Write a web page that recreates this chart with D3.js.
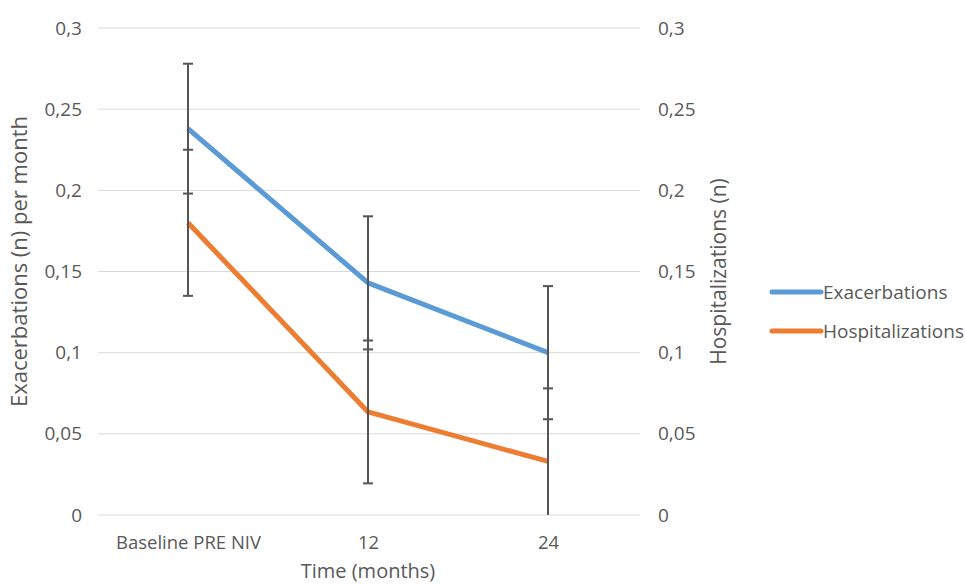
<!DOCTYPE html>
<html>
<head>
<meta charset="utf-8">
<script src="https://cdn.jsdelivr.net/npm/d3@7"></script>
<style>
  body { margin: 0; background: #fff; }
  svg text { font-family: "Open Sans", "Noto Sans", sans-serif; fill: #595959; }
</style>
</head>
<body>
<div id="chart"></div>
<script>
// Chart data
const categories = ['Baseline PRE NIV', '12', '24'];
const exacerbations = [0.238, 0.143, 0.100];
const exacerbationsErr = [0.040, 0.041, 0.041];
const hospitalizations = [0.180, 0.0635, 0.033];
const hospitalizationsErr = [0.045, 0.044, 0.045];
const yTicks = [0, 0.05, 0.1, 0.15, 0.2, 0.25, 0.3];

const series = [
  { name: 'Exacerbations', values: exacerbations, err: exacerbationsErr, color: '#5B9BD5' },
  { name: 'Hospitalizations', values: hospitalizations, err: hospitalizationsErr, color: '#ED7D31' },
];

const W = 965, H = 588;
const plot = { left: 98, right: 640, top: 28, bottom: 515 };
const FONT = '"Open Sans", "Noto Sans", sans-serif';

const svg = d3.select('#chart').append('svg')
  .attr('width', W).attr('height', H);

const x = d3.scalePoint().domain(categories)
  .range([plot.left, plot.right - 2]).padding(0.5);
const y = d3.scaleLinear().domain([0, 0.3]).range([plot.bottom, plot.top]);

const fmt = d => d3.format('')(d).replace('.', ',');

// Gridlines
svg.append('g')
  .selectAll('line')
  .data(yTicks)
  .join('line')
  .attr('x1', plot.left).attr('x2', plot.right)
  .attr('y1', d => y(d)).attr('y2', d => y(d))
  .attr('stroke', '#d9d9d9').attr('stroke-width', 1);

function styleAxis(g, size) {
  g.select('.domain').remove();
  g.selectAll('text').attr('font-size', size)
    .style('fill', '#595959').style('font-family', FONT);
}

// Left axis labels
svg.append('g')
  .attr('transform', `translate(${plot.left},0)`)
  .call(d3.axisLeft(y).tickValues(yTicks).tickFormat(fmt).tickSize(0).tickPadding(16))
  .call(g => styleAxis(g, 19));

// Right axis labels
svg.append('g')
  .attr('transform', `translate(${plot.right},0)`)
  .call(d3.axisRight(y).tickValues(yTicks).tickFormat(fmt).tickSize(0).tickPadding(18))
  .call(g => styleAxis(g, 19));

// Category axis
svg.append('g')
  .attr('transform', `translate(0,${plot.bottom})`)
  .call(d3.axisBottom(x).tickSize(0).tickPadding(21))
  .call(g => styleAxis(g, 18.5));

// Axis titles
svg.append('text')
  .attr('transform', `translate(27,${(plot.top + plot.bottom) / 2 - 10}) rotate(-90)`)
  .attr('text-anchor', 'middle')
  .attr('font-size', 22)
  .text('Exacerbations (n) per month');

svg.append('text')
  .attr('transform', `translate(726,${(plot.top + plot.bottom) / 2}) rotate(-90)`)
  .attr('text-anchor', 'middle')
  .attr('font-size', 21)
  .text('Hospitalizations (n)');

svg.append('text')
  .attr('x', x('12')).attr('y', 578)
  .attr('text-anchor', 'middle')
  .attr('font-size', 20)
  .text('Time (months)');

// Lines
const line = d3.line()
  .x((d, i) => x(categories[i]))
  .y(d => y(d));

svg.append('g')
  .selectAll('path')
  .data(series)
  .join('path')
  .attr('d', d => line(d.values))
  .attr('fill', 'none')
  .attr('stroke', d => d.color)
  .attr('stroke-width', 5)
  .attr('stroke-linejoin', 'round');

// Error bars
const clampV = v => Math.max(0, Math.min(0.3, v));
const errData = series.flatMap(s => s.values.map((v, i) => ({
  cx: x(categories[i]),
  lo: v - s.err[i],
  hi: v + s.err[i],
})));

const eb = svg.append('g').attr('stroke', '#555').attr('stroke-width', 2);
eb.selectAll('line.bar')
  .data(errData)
  .join('line').attr('class', 'bar')
  .attr('x1', d => d.cx).attr('x2', d => d.cx)
  .attr('y1', d => y(clampV(d.lo))).attr('y2', d => y(clampV(d.hi)));

const caps = errData.flatMap(d => [d.hi, d.lo].filter(v => v >= 0).map(v => ({ cx: d.cx, v })));
eb.selectAll('line.cap')
  .data(caps)
  .join('line').attr('class', 'cap')
  .attr('x1', d => d.cx - 5).attr('x2', d => d.cx + 5)
  .attr('y1', d => y(d.v)).attr('y2', d => y(d.v));

// Legend
const legend = svg.append('g')
  .selectAll('g')
  .data(series)
  .join('g')
  .attr('transform', (d, i) => `translate(772,${292 + i * 39})`);

legend.append('line')
  .attr('x1', 0).attr('x2', 49)
  .attr('stroke', d => d.color).attr('stroke-width', 5)
  .attr('stroke-linecap', 'round');

legend.append('text')
  .attr('x', 51).attr('dy', '0.35em')
  .attr('font-size', 19)
  .text(d => d.name);
</script>
</body>
</html>
